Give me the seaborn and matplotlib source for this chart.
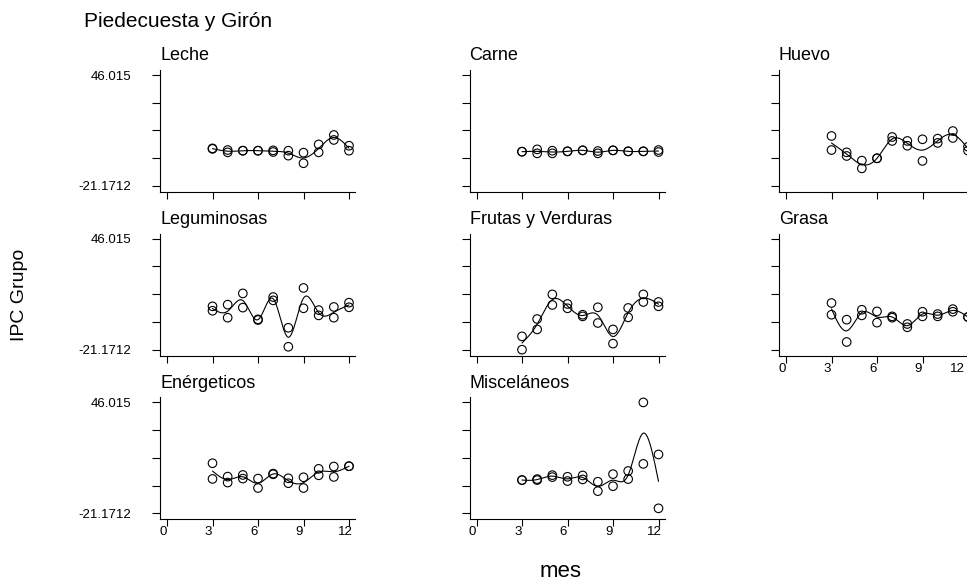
import numpy as np
import pandas as pd
import matplotlib
matplotlib.use("Agg")
import matplotlib.pyplot as plt
import matplotlib.transforms as mtransforms
import seaborn as sns

# --- Data: IPC by group, two values per month (Piedecuesta / Girón) ---
meses = [3, 4, 5, 6, 7, 8, 9, 10, 11, 12]

leche_a = [1.6, 0.6, 0.2, 0.2, 0.4, 0.2, -1.0, 4.0, 9.7, 3.2]
leche_b = [1.3, -0.8, 0.2, 0.2, -0.6, -2.8, -7.4, -0.8, 6.7, 0.2]
carne_a = [-0.4, 1.0, 0.2, -0.2, 0.4, 0.0, 0.4, -0.2, -0.2, 0.6]
carne_b = [-0.4, -1.4, -1.4, -0.2, 0.4, -1.4, 0.4, -0.2, -0.2, -0.6]
huevo_a = [9.1, -0.8, -5.8, -4.4, 8.5, 6.1, 7.1, 7.5, 12.1, 2.6]
huevo_b = [0.6, -3.0, -10.5, -4.4, 6.1, 3.2, -6.0, 4.9, 7.9, 0.2]
legum_a = [5.1, 6.1, 12.9, -2.8, 10.7, -7.9, 16.2, 2.8, 4.7, 7.3]
legum_b = [2.4, -1.8, 4.3, -3.2, 8.7, -19.4, 3.9, -0.4, -1.8, 4.5]
frutas_a = [-13.1, -2.6, 12.3, 6.5, 0.0, 4.5, -8.9, 4.1, 12.3, 7.7]
frutas_b = [-21.1712, -8.9, 5.9, 3.9, -1.0, -5.0, -17.5, -1.6, 7.7, 5.1]
grasa_a = [7.1, -3.0, 3.0, 2.0, -1.0, -5.6, 1.8, 0.4, 3.4, -1.4]
grasa_b = [0.0, -16.5, -0.4, -4.8, -1.8, -7.6, -1.0, -1.0, 1.8, -1.4]
energ_a = [9.2, 1.1, 2.1, -0.1, 2.9, 0.1, 0.7, 5.8, 7.2, 7.4]
energ_b = [-0.3, -2.5, -0.1, -5.8, 2.5, -2.9, -5.8, 1.9, 0.9, 7.4]
misc_a = [-1.0, -0.4, 2.0, 1.0, 1.8, -2.0, 2.6, 4.5, 46.015, 14.5]
misc_b = [-1.0, -1.0, 0.8, -1.6, -0.6, -7.7, -4.7, -0.4, 8.8, -18.1]

grupos = ["Leche", "Carne", "Huevo", "Leguminosas", "Frutas y Verduras",
          "Grasa", "Enérgeticos", "Misceláneos"]
series = [(leche_a, leche_b), (carne_a, carne_b), (huevo_a, huevo_b),
          (legum_a, legum_b), (frutas_a, frutas_b), (grasa_a, grasa_b),
          (energ_a, energ_b), (misc_a, misc_b)]

y_min, y_max = -21.1712, 46.015
x_ticks = [0, 3, 6, 9, 12]


def natural_spline(x, y, xs):
    # natural cubic spline through the monthly means (like Stata's mspline)
    x = np.asarray(x, float)
    y = np.asarray(y, float)
    n = len(x)
    h = np.diff(x)
    A = np.zeros((n, n))
    r = np.zeros(n)
    A[0, 0] = A[-1, -1] = 1
    for i in range(1, n - 1):
        A[i, i - 1] = h[i - 1]
        A[i, i] = 2 * (h[i - 1] + h[i])
        A[i, i + 1] = h[i]
        r[i] = 3 * ((y[i + 1] - y[i]) / h[i] - (y[i] - y[i - 1]) / h[i - 1])
    c = np.linalg.solve(A, r)
    b = (y[1:] - y[:-1]) / h - h * (2 * c[:-1] + c[1:]) / 3
    d = (c[1:] - c[:-1]) / (3 * h)
    idx = np.clip(np.searchsorted(x, xs) - 1, 0, n - 2)
    dx = xs - x[idx]
    return y[idx] + b[idx] * dx + c[idx] * dx ** 2 + d[idx] * dx ** 3


# --- Style ---
sns.set_style("ticks")
plt.rcParams["font.family"] = ["Liberation Sans", "DejaVu Sans"]
plt.rcParams["axes.edgecolor"] = "black"
plt.rcParams["axes.linewidth"] = 0.8
plt.rcParams["text.color"] = "black"
plt.rcParams["axes.titlecolor"] = "black"

W, H = 967, 584
fig = plt.figure(figsize=(W / 100, H / 100), dpi=100)

px_month = 182 / 12.0
ppu = 111 / (y_max - y_min)

for k, (name, (va, vb)) in enumerate(zip(grupos, series)):
    row, col = divmod(k, 3)
    x0 = 167 + 309.5 * col            # pixel of month 0
    top_tick = 75 + 163.7 * row       # pixel of 46.015
    bot_tick = top_tick + 111
    left_px = x0 - 7
    right_px = x0 + 188
    top_px = top_tick - 5
    bottom_px = bot_tick + 6

    ax = fig.add_axes([left_px / W, 1 - bottom_px / H,
                       (right_px - left_px) / W, (bottom_px - top_px) / H])

    df = pd.DataFrame({"mes": meses * 2, "ipc": list(va) + list(vb)})
    mean = df.groupby("mes")["ipc"].mean()
    xs = np.linspace(3, 12, 300)
    curve = pd.DataFrame({"mes": xs, "ipc": natural_spline(mean.index, mean.values, xs)})

    sns.lineplot(data=curve, x="mes", y="ipc", ax=ax, color="black", lw=0.8)
    sns.scatterplot(data=df, x="mes", y="ipc", ax=ax, marker="o", s=38,
                    facecolor="none", edgecolor="black", linewidth=0.8, zorder=3)

    ax.set_xlim(-7 / px_month, 188 / px_month)
    ax.set_ylim(y_min - 6 / ppu, y_max + 5 / ppu)
    ax.set_xlabel("")
    ax.set_ylabel("")
    sns.despine(ax=ax)

    ax.set_yticks(np.linspace(y_min, y_max, 5))
    ax.tick_params(axis="y", length=6, width=0.8, pad=15, colors="black")
    if col == 0:
        ax.set_yticklabels(["-21.1712", "", "", "", "46.015"], fontsize=9.5)
    else:
        ax.set_yticklabels([])

    ax.set_xticks(x_ticks)
    ax.tick_params(axis="x", length=5, width=0.8, pad=0, colors="black")
    bottom_panel = (row == 2) or (row == 1 and col == 2)
    if bottom_panel:
        ax.set_xticklabels([str(t) for t in x_ticks], fontsize=9.5)
        for i, lab in enumerate(ax.get_xticklabels()):
            dx = -4
            if col == 2 and i == len(x_ticks) - 1:
                dx = -11   # last label pulled in from the cut edge, as in the source
            shift = mtransforms.ScaledTranslation(dx / 100, 0, fig.dpi_scale_trans)
            lab.set_transform(lab.get_transform() + shift)
    else:
        ax.set_xticklabels([])

    ax.set_title(name, loc="left", fontsize=13, pad=7)

fig.text(84 / W, 1 - 27 / H, "Piedecuesta y Girón", fontsize=15, va="baseline", ha="left")
fig.text(20 / W, 1 - 295 / H, "IPC Grupo", fontsize=14, rotation=90, va="center", ha="center")
fig.text(540 / W, 1 - 577 / H, "mes", fontsize=16, va="baseline", ha="left")

fig.savefig("out.png", dpi=100, facecolor="white")
